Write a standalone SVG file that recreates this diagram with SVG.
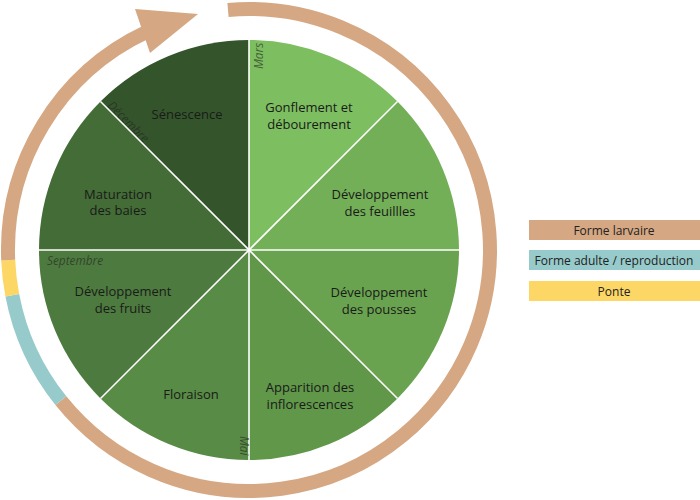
<svg xmlns="http://www.w3.org/2000/svg" width="700" height="500" viewBox="0 0 700 500">
<style>
.lbl{font-family:"Open Sans","DejaVu Sans",sans-serif;font-size:13px;fill:#1a1a1a;text-anchor:middle}
.mon{font-family:"Open Sans","DejaVu Sans",sans-serif;font-size:11.8px;font-style:italic;fill:#222;fill-opacity:0.62}
.leg{font-family:"Open Sans","DejaVu Sans",sans-serif;font-size:12px;fill:#222;text-anchor:middle}
.ring{fill:none;stroke-width:14}
.sep{stroke:#fff;stroke-width:1.6}
</style>
<rect width="700" height="500" fill="#fff"/>
<g id="cycle">
<path class="ring" stroke="#D5A883" d="M228,9.92 A241,241 0 1 1 60.9,400.7"/>
<path class="ring" stroke="#97CBCB" d="M60.9,400.7 A241,241 0 0 1 12.3,295.2"/>
<path class="ring" stroke="#FDD766" d="M12.3,295.2 A241,241 0 0 1 8.2,260.1"/>
<path class="ring" stroke="#D5A883" d="M8.2,260.1 A241,241 0 0 1 147.15,31.6"/>
<polygon fill="#D5A883" points="135,9 198,14 150,53"/>
</g>
<g id="s1"><path fill="#7DBE60" d="M249,250 L249,40 A210,210 0 0 1 397.49,101.51 Z"/>
<text class="lbl" x="309" y="112">Gonflement et</text><text class="lbl" x="309" y="129">débourement</text></g>
<g id="s2"><path fill="#73AF57" d="M249,250 L397.49,101.51 A210,210 0 0 1 459,250 Z"/>
<text class="lbl" x="380" y="199">Développement</text><text class="lbl" x="380" y="216">des feuillles</text></g>
<g id="s3"><path fill="#69A34F" d="M249,250 L459,250 A210,210 0 0 1 397.49,398.49 Z"/>
<text class="lbl" x="379" y="296.5">Développement</text><text class="lbl" x="379" y="313.5">des pousses</text></g>
<g id="s4"><path fill="#609749" d="M249,250 L397.49,398.49 A210,210 0 0 1 249,460 Z"/>
<text class="lbl" x="310" y="392">Apparition des</text><text class="lbl" x="310" y="409">inflorescences</text></g>
<g id="s5"><path fill="#588B45" d="M249,250 L249,460 A210,210 0 0 1 100.51,398.49 Z"/>
<text class="lbl" x="191" y="399">Floraison</text></g>
<g id="s6"><path fill="#4D7A3E" d="M249,250 L100.51,398.49 A210,210 0 0 1 39,250 Z"/>
<text class="lbl" x="123" y="296">Développement</text><text class="lbl" x="123" y="312.5">des fruits</text></g>
<g id="s7"><path fill="#436C36" d="M249,250 L39,250 A210,210 0 0 1 100.51,101.51 Z"/>
<text class="lbl" x="118" y="198.5">Maturation</text><text class="lbl" x="118" y="215">des baies</text></g>
<g id="s8"><path fill="#34552B" d="M249,250 L100.51,101.51 A210,210 0 0 1 249,40 Z"/>
<text class="lbl" x="187" y="119">Sénescence</text></g>
<g id="connectors">
<line class="sep" x1="249" y1="40" x2="249" y2="460"/>
<line class="sep" x1="39" y1="250" x2="459" y2="250"/>
<line class="sep" x1="100.51" y1="101.51" x2="397.49" y2="398.49"/>
<line class="sep" x1="397.49" y1="101.51" x2="100.51" y2="398.49"/>
</g>
<g id="months">
<text class="mon" transform="translate(262.5,69) rotate(-90)">Mars</text>
<text class="mon" transform="translate(239.5,436) rotate(90)">Mai</text>
<text class="mon" x="47" y="264.5">Septembre</text>
<text class="mon" transform="translate(107,106) rotate(45)">Décembre</text>
</g>
<g id="legend">
<g id="leg1"><rect x="529" y="220" width="171" height="20" fill="#D5A883"/><text class="leg" x="614" y="234.5">Forme larvaire</text></g>
<g id="leg2"><rect x="529" y="250" width="171" height="20" fill="#97CBCB"/><text class="leg" x="614" y="264.5">Forme adulte / reproduction</text></g>
<g id="leg3"><rect x="529" y="281" width="171" height="20" fill="#FDD766"/><text class="leg" x="614" y="295.5">Ponte</text></g>
</g>
</svg>
